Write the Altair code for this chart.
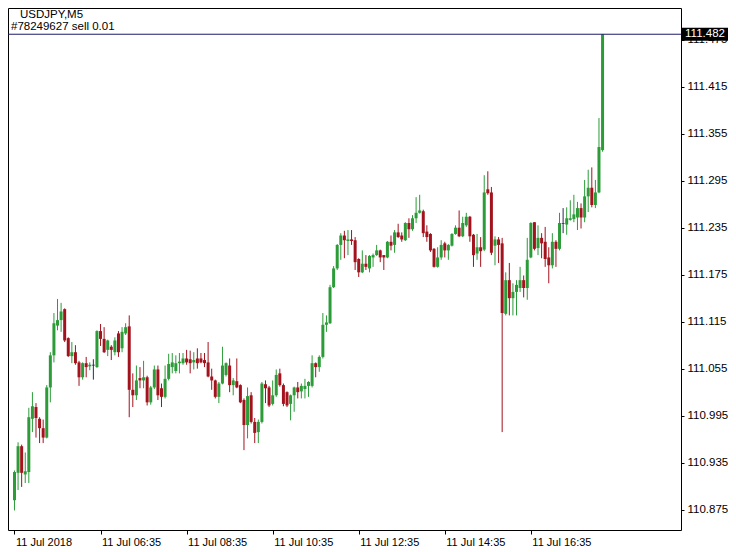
import altair as alt
import pandas as pd

symbol_title = "USDJPY,M5"
order_text = "#78249627 sell 0.01"
current_price = 111.482

x_tick_labels = ["11 Jul 2018", "11 Jul 06:35", "11 Jul 08:35", "11 Jul 10:35",
                 "11 Jul 12:35", "11 Jul 14:35", "11 Jul 16:35"]
x_tick_bars = [0, 24, 48, 72, 96, 120, 144]
y_ticks = [110.875, 110.935, 110.995, 111.055, 111.115, 111.175, 111.235,
           111.295, 111.355, 111.415, 111.475]

opens = [110.887, 110.922, 110.956, 110.920, 110.923, 110.991, 111.006, 110.991, 110.979, 110.967,
         111.031, 111.072, 111.110, 111.117, 111.131, 111.094, 111.071, 111.076, 111.063, 111.044,
         111.062, 111.058, 111.059, 111.057, 111.103, 111.093, 111.079, 111.083, 111.076, 111.100,
         111.081, 111.100, 111.109, 111.028, 111.021, 111.043, 111.040, 111.044, 111.012, 111.031,
         111.054, 111.030, 111.019, 111.042, 111.057, 111.052, 111.062, 111.062, 111.068, 111.067,
         111.063, 111.068, 111.068, 111.066, 111.063, 111.045, 111.040, 111.019, 111.036, 111.047,
         111.059, 111.034, 111.039, 111.034, 111.015, 110.983, 111.021, 110.987, 110.974, 110.987,
         111.035, 111.031, 111.010, 111.021, 111.049, 111.034, 111.025, 111.010, 111.021, 111.031,
         111.026, 111.029, 111.033, 111.033, 111.062, 111.057, 111.070, 111.111, 111.113, 111.159,
         111.183, 111.213, 111.225, 111.218, 111.220, 111.219, 111.195, 111.178, 111.189, 111.183,
         111.197, 111.200, 111.206, 111.200, 111.197, 111.217, 111.213, 111.229, 111.225, 111.219,
         111.241, 111.233, 111.247, 111.254, 111.256, 111.230, 111.227, 111.208, 111.185, 111.197,
         111.215, 111.206, 111.212, 111.227, 111.235, 111.224, 111.238, 111.249, 111.226, 111.202,
         111.210, 111.207, 111.284, 111.280, 111.212, 111.220, 111.215, 111.125, 111.168, 111.145,
         111.153, 111.158, 111.168, 111.158, 111.197, 111.242, 111.209, 111.222, 111.217, 111.197,
         111.187, 111.217, 111.208, 111.241, 111.239, 111.245, 111.246, 111.248, 111.260, 111.248,
         111.275, 111.286, 111.264, 111.280, 111.334]

highs = [110.925, 110.961, 110.958, 110.948, 111.005, 111.025, 111.011, 110.993, 110.990, 111.034,
         111.076, 111.126, 111.144, 111.139, 111.132, 111.095, 111.089, 111.085, 111.065, 111.063,
         111.070, 111.063, 111.067, 111.104, 111.112, 111.108, 111.092, 111.085, 111.095, 111.103,
         111.108, 111.113, 111.123, 111.049, 111.059, 111.057, 111.065, 111.046, 111.033, 111.059,
         111.059, 111.036, 111.059, 111.074, 111.075, 111.072, 111.075, 111.075, 111.079, 111.078,
         111.076, 111.081, 111.075, 111.075, 111.089, 111.055, 111.041, 111.038, 111.083, 111.063,
         111.068, 111.043, 111.068, 111.035, 111.017, 111.031, 111.025, 110.992, 110.990, 111.038,
         111.040, 111.033, 111.040, 111.054, 111.055, 111.036, 111.026, 111.022, 111.032, 111.038,
         111.036, 111.042, 111.039, 111.072, 111.063, 111.072, 111.126, 111.123, 111.162, 111.186,
         111.214, 111.228, 111.231, 111.232, 111.232, 111.223, 111.196, 111.206, 111.200, 111.200,
         111.202, 111.213, 111.207, 111.200, 111.218, 111.225, 111.232, 111.240, 111.229, 111.242,
         111.247, 111.251, 111.274, 111.277, 111.258, 111.238, 111.228, 111.209, 111.210, 111.219,
         111.217, 111.214, 111.228, 111.238, 111.257, 111.249, 111.254, 111.250, 111.227, 111.227,
         111.223, 111.302, 111.307, 111.287, 111.224, 111.223, 111.222, 111.178, 111.190, 111.164,
         111.168, 111.185, 111.174, 111.222, 111.242, 111.242, 111.238, 111.228, 111.236, 111.210,
         111.228, 111.219, 111.254, 111.260, 111.261, 111.270, 111.277, 111.268, 111.266, 111.296,
         111.309, 111.312, 111.296, 111.375, 111.482]

lows = [110.874, 110.900, 110.904, 110.909, 110.909, 110.974, 110.967, 110.960, 110.960, 110.966,
        111.012, 111.063, 111.104, 111.102, 111.089, 111.070, 111.062, 111.060, 111.033, 111.041,
        111.044, 111.053, 111.041, 111.056, 111.084, 111.075, 111.071, 111.066, 111.072, 111.070,
        111.076, 111.098, 110.993, 111.006, 111.015, 111.030, 111.030, 111.008, 111.009, 111.029,
        111.015, 111.006, 111.017, 111.040, 111.049, 111.049, 111.049, 111.060, 111.060, 111.049,
        111.054, 111.055, 111.062, 111.057, 111.044, 111.028, 111.017, 111.011, 111.035, 111.045,
        111.025, 111.021, 111.030, 111.011, 110.951, 110.966, 110.985, 110.960, 110.960, 110.985,
        111.011, 111.006, 111.008, 111.019, 111.032, 111.007, 111.006, 110.989, 111.000, 111.017,
        111.017, 111.017, 111.019, 111.031, 111.044, 111.051, 111.068, 111.102, 111.112, 111.158,
        111.181, 111.194, 111.196, 111.200, 111.213, 111.181, 111.172, 111.177, 111.181, 111.178,
        111.185, 111.199, 111.191, 111.181, 111.196, 111.206, 111.203, 111.222, 111.217, 111.218,
        111.222, 111.231, 111.241, 111.253, 111.223, 111.217, 111.204, 111.184, 111.184, 111.194,
        111.197, 111.194, 111.211, 111.226, 111.223, 111.223, 111.236, 111.217, 111.185, 111.194,
        111.185, 111.205, 111.277, 111.200, 111.187, 111.190, 110.974, 111.123, 111.123, 111.123,
        111.123, 111.153, 111.146, 111.143, 111.196, 111.206, 111.200, 111.196, 111.185, 111.164,
        111.183, 111.185, 111.206, 111.228, 111.226, 111.244, 111.242, 111.232, 111.234, 111.242,
        111.255, 111.261, 111.260, 111.279, 111.332]

closes = [110.923, 110.956, 110.922, 110.924, 110.993, 111.007, 110.992, 110.979, 110.967, 111.031,
          111.072, 111.113, 111.117, 111.128, 111.091, 111.071, 111.076, 111.062, 111.044, 111.062,
          111.057, 111.060, 111.060, 111.103, 111.093, 111.076, 111.091, 111.079, 111.091, 111.076,
          111.102, 111.108, 111.028, 111.021, 111.040, 111.040, 111.044, 111.012, 111.031, 111.054,
          111.021, 111.019, 111.042, 111.061, 111.063, 111.062, 111.064, 111.068, 111.063, 111.062,
          111.066, 111.062, 111.063, 111.062, 111.045, 111.040, 111.019, 111.036, 111.059, 111.062,
          111.034, 111.040, 111.031, 111.012, 110.983, 111.020, 110.987, 110.973, 110.987, 111.036,
          111.030, 111.008, 111.021, 111.047, 111.034, 111.010, 111.008, 111.021, 111.031, 111.025,
          111.033, 111.033, 111.038, 111.062, 111.057, 111.070, 111.111, 111.114, 111.159, 111.183,
          111.213, 111.225, 111.219, 111.220, 111.218, 111.191, 111.178, 111.189, 111.185, 111.199,
          111.200, 111.206, 111.197, 111.197, 111.217, 111.212, 111.229, 111.223, 111.220, 111.241,
          111.233, 111.247, 111.254, 111.257, 111.228, 111.223, 111.206, 111.185, 111.197, 111.213,
          111.206, 111.213, 111.227, 111.235, 111.224, 111.241, 111.249, 111.224, 111.200, 111.210,
          111.205, 111.280, 111.279, 111.203, 111.220, 111.213, 111.126, 111.168, 111.145, 111.153,
          111.162, 111.168, 111.158, 111.194, 111.241, 111.208, 111.222, 111.215, 111.195, 111.187,
          111.217, 111.208, 111.241, 111.240, 111.247, 111.247, 111.252, 111.260, 111.248, 111.275,
          111.286, 111.264, 111.280, 111.338, 111.482]

n = len(closes)
kind = []
for o, c in zip(opens, closes):
    if abs(c - o) < 0.0012:
        kind.append("doji")
    elif c > o:
        kind.append("up")
    else:
        kind.append("down")

df = pd.DataFrame({"bar": list(range(n)), "open": opens, "high": highs,
                   "low": lows, "close": closes, "kind": kind})

FONT = "Liberation Sans"
W, H = 673, 522

label_js = "[" + ",".join("'" + s + "'" for s in x_tick_labels) + "]"
x_axis = alt.Axis(values=x_tick_bars, labelExpr=label_js + "[round(datum.value / 24)]",
                  labelAlign="left", labelFlush=False, labelOverlap=False, labelOffset=1,
                  tickSize=4, tickColor="#000", labelPadding=2, domain=False, grid=False,
                  labelFont=FONT, labelFontSize=11, labelColor="#000", title=None)
y_axis = alt.Axis(values=y_ticks, format=".3f", orient="right", tickSize=3, tickColor="#000",
                  labelPadding=3, domain=False, grid=False, labelFlush=False, labelOverlap=False,
                  labelFont=FONT, labelFontSize=11.5, labelColor="#000", title=None,
                  labelBaseline="middle")
x_scale = alt.Scale(domain=[-0.412, 184.48], nice=False, zero=False)
y_scale = alt.Scale(domain=[110.849, 111.5155], nice=False, zero=False)

color = alt.Color("kind:N", legend=None,
                  scale=alt.Scale(domain=["up", "down", "doji"],
                                  range=["#2b9c38", "#a3131d", "#2a2a5a"]))

base = alt.Chart(df)
wicks = base.mark_rule(strokeWidth=1).encode(
    x=alt.X("bar:Q", scale=x_scale, axis=x_axis),
    y=alt.Y("low:Q", scale=y_scale, axis=y_axis),
    y2="high:Q",
    color=color,
)
bodies = base.mark_bar(size=3).encode(
    x=alt.X("bar:Q", scale=x_scale, axis=x_axis),
    y=alt.Y("open:Q", scale=y_scale, axis=y_axis),
    y2="close:Q",
    color=color,
)

cp = pd.DataFrame({"p": [current_price], "label": [f"{current_price:.3f}"]})
price_line = alt.Chart(cp).mark_rule(color="#1c1c66", strokeWidth=1).encode(
    y=alt.Y("p:Q", scale=y_scale, axis=y_axis)
)
box_path = "M-1,-0.283L1,-0.283L1,0.283L-1,0.283Z"
price_box = alt.Chart(cp).mark_point(shape=box_path, size=2116, filled=True, opacity=1,
                                     color="#000", clip=False, strokeWidth=0).encode(
    x=alt.value(W + 24),
    y=alt.Y("p:Q", scale=y_scale, axis=y_axis),
)
price_text = alt.Chart(cp).mark_text(color="#fff", font=FONT, fontSize=11.5, align="center",
                                     baseline="middle", clip=False).encode(
    x=alt.value(W + 24),
    y=alt.Y("p:Q", scale=y_scale, axis=y_axis),
    text="label:N",
)

titles = pd.DataFrame({"t": [symbol_title, order_text], "row": [0, 1]})
title1 = alt.Chart(titles[titles.row == 0]).mark_text(
    align="left", baseline="alphabetic", font=FONT, fontSize=11.5, color="#000").encode(
    x=alt.value(12), y=alt.value(10), text="t:N")
title2 = alt.Chart(titles[titles.row == 1]).mark_text(
    align="left", baseline="alphabetic", font=FONT, fontSize=11.5, color="#000").encode(
    x=alt.value(3), y=alt.value(22), text="t:N")

chart = alt.layer(wicks, bodies, price_line, price_box, price_text, title1, title2).properties(
    width=W, height=H,
    autosize=alt.AutoSizeParams(type="none"),
    padding={"left": 0, "top": 0, "right": 47, "bottom": 22},
    background="#ffffff",
).configure_view(stroke="#000", strokeWidth=1)

chart.save("out.html", embed_options={"renderer": "svg", "actions": False})
